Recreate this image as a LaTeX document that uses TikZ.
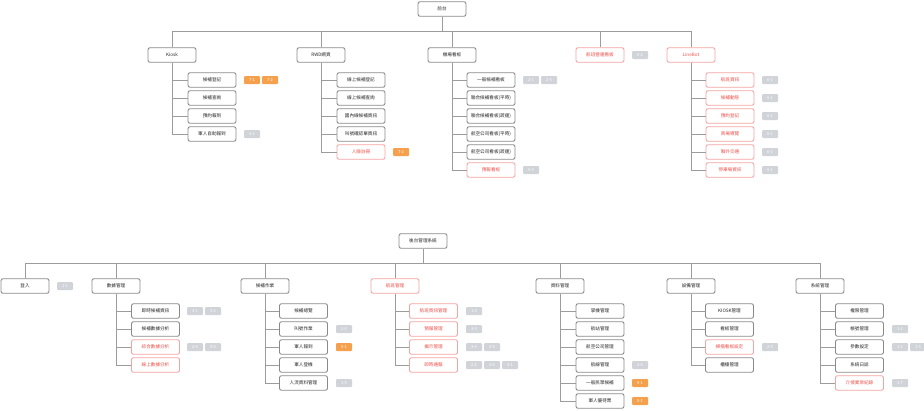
\documentclass[tikz,border=0pt]{standalone}
\usepackage{fontspec}
\setmainfont{Noto Sans CJK TC}
\definecolor{boxgray}{HTML}{8A8A8A}
\definecolor{linegray}{HTML}{9C9C9C}
\definecolor{redline}{HTML}{F5A3A3}
\definecolor{redtext}{HTML}{EE4F48}
\definecolor{tagorange}{HTML}{F5A04C}
\definecolor{taggray}{HTML}{D0D3D8}
\tikzset{
  box/.style={draw=boxgray, line width=0.9pt, rounded corners=2pt, fill=white,
    minimum width=48pt, minimum height=14.5pt, inner sep=0pt,
    font=\fontsize{4.6}{5}\selectfont, text=black!85},
  redbox/.style={box, draw=redline, text=redtext},
  gtag/.style={fill=taggray, rounded corners=1pt, minimum width=16pt, minimum height=8pt,
    inner sep=0pt, font=\fontsize{4}{4.5}\selectfont, text=white},
  otag/.style={gtag, fill=tagorange},
  conn/.style={draw=linegray, line width=0.9pt}
}
\begin{document}
\begin{tikzpicture}[x=1pt,y=-1pt]
\useasboundingbox (0,0) rectangle (924,410);
% ---------------- top tree ----------------
\coordinate (busT) at (442,31);
\node[box] (root) at (442,9) {前台};
\node[box] (kiosk) at (172,55) {Kiosk};
\node[box] (rwd) at (321,55) {RWD網頁};
\node[box] (board) at (452,55) {機場看板};
\node[redbox] (ops) at (600,55) {航班營運看板};
\node[redbox] (line) at (691,55) {LineBot};
\draw[conn] (root.south) -- (busT);
\foreach \p in {kiosk,rwd,board,ops,line} { \draw[conn] (\p.north) |- (busT); }

\foreach \t/\s [count=\i] in {候補登記/box,候補查詢/box,預約報到/box,軍人自助報到/box} {
  \node[\s] (k\i) at (212,{80+18*(\i-1)}) {\t};
  \draw[conn] (kiosk.south) |- (k\i.west);
}
\foreach \t/\s [count=\i] in {線上候補登記/box,線上候補查詢/box,國內線候補資訊/box,叫號確認單資訊/box,人臉註冊/redbox} {
  \node[\s] (r\i) at (361,{80+18*(\i-1)}) {\t};
  \draw[conn] (rwd.south) |- (r\i.west);
}
\foreach \t/\s [count=\i] in {一般候補看板/box,聯合候補看板(平時)/box,聯合候補看板(疏運)/box,航空公司看板(平時)/box,航空公司看板(疏運)/box,預報看板/redbox} {
  \node[\s] (b\i) at (491,{80+18*(\i-1)}) {\t};
  \draw[conn] (board.south) |- (b\i.west);
}
\foreach \t [count=\i] in {航班資訊,候補動態,預約登記,商場導覽,聯外交通,停車場資訊} {
  \node[redbox] (l\i) at (730,{80+18*(\i-1)}) {\t};
  \draw[conn] (line.south) |- (l\i.west);
  \node[gtag] (lt\i) at (770,{80+18*(\i-1)}) {6-1};
}
\node[otag] (kt1a) at (252,80) {7-1};
\node[otag] (kt1b) at (270,80) {7-2};
\node[gtag] (kt4) at (252,134) {5-1};
\node[otag] (rt5) at (401,152) {7-2};
\node[gtag] (bt1a) at (531,80) {2-1};
\node[gtag] (bt1b) at (549,80) {2-5};
\node[gtag] (bt6) at (531,170) {6-3};
\node[gtag] (opst) at (640,55) {6-2};

% ---------------- bottom tree ----------------
\coordinate (busB) at (423,263);
\node[box] (broot) at (423,241) {後台管理系統};
\node[box] (login) at (25,286) {登入};
\node[box] (data) at (116,286) {數據管理};
\node[box] (wait) at (265,286) {候補作業};
\node[redbox] (flight) at (395,286) {航班管理};
\node[box] (info) at (560,286) {資料管理};
\node[box] (dev) at (691,286) {設備管理};
\node[box] (sys) at (820,286) {系統管理};
\draw[conn] (broot.south) -- (busB);
\foreach \p in {login,data,wait,flight,info,dev,sys} { \draw[conn] (\p.north) |- (busB); }
\node[gtag] (logt) at (65,286) {1-1};

\foreach \t/\s [count=\i] in {即時候補資訊/box,候補數據分析/box,綜合數據分析/redbox,線上數據分析/redbox} {
  \node[\s] (d\i) at (155.5,{311+18*(\i-1)}) {\t};
  \draw[conn] (data.south) |- (d\i.west);
}
\node[gtag] (dt1a) at (195,311) {3-1};
\node[gtag] (dt1b) at (213,311) {3-2};
\node[gtag] (dt3a) at (195,347) {2-6};
\node[gtag] (dt3b) at (213,347) {3-6};

\foreach \t/\s [count=\i] in {候補總覽/box,叫號作業/box,軍人報到/box,軍人登機/box,人流資料管理/box} {
  \node[\s] (w\i) at (303.5,{311+18*(\i-1)}) {\t};
  \draw[conn] (wait.south) |- (w\i.west);
}
\node[gtag] (wt2) at (344,329) {2-5};
\node[otag] (wt3) at (344,347) {5-1};
\node[gtag] (wt5) at (344,383) {1-5};

\foreach \t [count=\i] in {航班資訊管理,預報管理,揭示管理,即時通報} {
  \node[redbox] (f\i) at (433.5,{311+18*(\i-1)}) {\t};
  \draw[conn] (flight.south) |- (f\i.west);
}
\node[gtag] (ft1) at (474,311) {1-4};
\node[gtag] (ft2) at (474,329) {3-3};
\node[gtag] (ft3a) at (474,347) {3-4};
\node[gtag] (ft3b) at (492,347) {3-5};
\node[gtag] (ft4a) at (474,365) {2-2};
\node[gtag] (ft4b) at (492,365) {3-6};
\node[gtag] (ft4c) at (510,365) {4-1};

\foreach \t/\s [count=\i] in {掌機管理/box,航站管理/box,航空公司管理/box,航線管理/box,一般民眾候補/box,軍人優待票/box} {
  \node[\s] (n\i) at (600,{311+18*(\i-1)}) {\t};
  \draw[conn] (info.south) |- (n\i.west);
}
\node[gtag] (nt4) at (640,365) {2-4};
\node[otag] (nt5) at (640,383) {5-1};
\node[otag] (nt6) at (640,401) {5-1};

\foreach \t/\s [count=\i] in {KIOSK管理/box,看板管理/box,掃描看板設定/redbox,櫃檯管理/box} {
  \node[\s] (v\i) at (729.5,{311+18*(\i-1)}) {\t};
  \draw[conn] (dev.south) |- (v\i.west);
}
\node[gtag] (vt3) at (770,347) {2-3};

\foreach \t/\s [count=\i] in {權限管理/box,帳號管理/box,參數設定/box,系統日誌/box,介接異常紀錄/redbox} {
  \node[\s] (s\i) at (859.5,{311+18*(\i-1)}) {\t};
  \draw[conn] (sys.south) |- (s\i.west);
}
\node[gtag] (st2) at (900,329) {1-1};
\node[gtag] (st3a) at (900,347) {1-2};
\node[gtag] (st3b) at (918,347) {1-3};
\node[gtag] (st5) at (900,383) {1-7};
\end{tikzpicture}
\end{document}
